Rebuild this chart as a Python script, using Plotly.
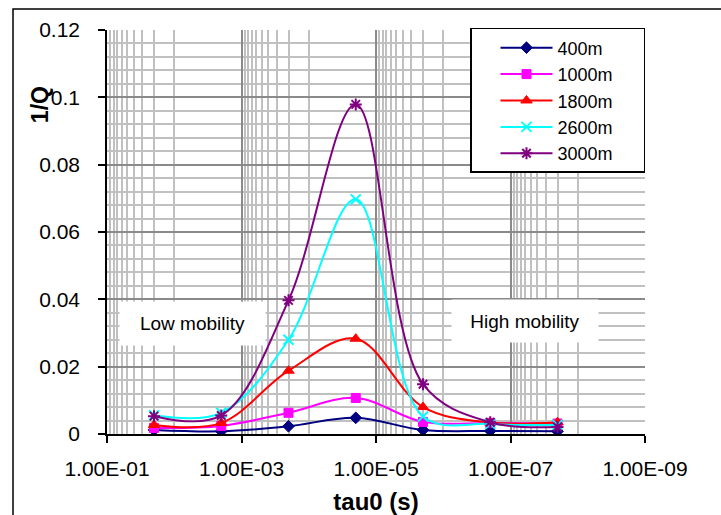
import plotly.graph_objects as go

# ---- data ----
tau0 = [2e-2, 2e-3, 2e-4, 2e-5, 2e-6, 2e-7, 2e-8]
q_400 = [0.0012, 0.0008, 0.0023, 0.0048, 0.0012, 0.0009, 0.0008]
q_1000 = [0.0018, 0.0024, 0.0063, 0.0107, 0.0036, 0.0033, 0.0031]
q_1800 = [0.0027, 0.0033, 0.0188, 0.0283, 0.0080, 0.0034, 0.0035]
q_2600 = [0.0056, 0.0063, 0.0280, 0.0697, 0.0052, 0.0030, 0.0027]
q_3000 = [0.0053, 0.0055, 0.0397, 0.0979, 0.0148, 0.0035, 0.0021]
series_names = ["400m", "1000m", "1800m", "2600m", "3000m"]
x_tick_vals = [1e-1, 1e-3, 1e-5, 1e-7, 1e-9]
x_tick_text = ["1.00E-01", "1.00E-03", "1.00E-05", "1.00E-07", "1.00E-09"]
y_tick_vals = [0, 0.02, 0.04, 0.06, 0.08, 0.1, 0.12]
y_tick_text = ["0", "0.02", "0.04", "0.06", "0.08", "0.1", "0.12"]

FONT = "Liberation Sans, Arial, sans-serif"

styles = [
    dict(color="#000080", symbol="diamond", size=9, lw=1),
    dict(color="#FF00FF", symbol="square", size=9, lw=1),
    dict(color="#FF0000", symbol="triangle-up", size=10, lw=1),
    dict(color="#00FFFF", symbol="x-thin", size=10, lw=2),
    dict(color="#800080", symbol="asterisk", size=10, lw=2),
]
values = [q_400, q_1000, q_1800, q_2600, q_3000]

PAD = "\u00a0" * 5  # invisible trailing space to widen the legend box

fig = go.Figure()
for name, vals, st in zip(series_names, values, styles):
    fig.add_trace(go.Scatter(
        x=tau0, y=vals, name=name + PAD, mode="lines+markers",
        line=dict(color=st["color"], width=2, shape="spline", smoothing=1.0),
        marker=dict(symbol=st["symbol"], size=st["size"], color=st["color"],
                    line=dict(color=st["color"], width=st["lw"])),
    ))

# minor x grid: only within the first decade after each major line
minor_x = []
for m in x_tick_vals[:-1]:
    for d in range(1, 10):
        minor_x.append(d * m / 10)

MAJOR_GRID = "#8a8a8a"
MINOR_GRID = "#c0c0c0"

fig.update_layout(
    width=721, height=515,
    margin=dict(l=107, r=76, t=30, b=81),
    paper_bgcolor="white", plot_bgcolor="white",
    font=dict(family=FONT, color="black", size=21),
    showlegend=True,
    legend=dict(
        x=1, xanchor="right", y=1.005, yanchor="top",
        bgcolor="white", bordercolor="black", borderwidth=1.5,
        font=dict(size=18, family=FONT), itemwidth=52,
        tracegroupgap=0, indentation=24,
    ),
    xaxis=dict(
        type="log", range=[-1, -9], automargin=False,
        tickmode="array", tickvals=x_tick_vals, ticktext=x_tick_text,
        showgrid=True, gridcolor=MAJOR_GRID, gridwidth=1.5,
        showline=True, linecolor="black", linewidth=1.5,
        ticks="outside", ticklen=7, tickcolor="black", tickwidth=1.5,
        ticklabelstandoff=8,
        tickfont=dict(size=21),
        minor=dict(tickmode="array", tickvals=minor_x, showgrid=True,
                   gridcolor=MINOR_GRID, gridwidth=1.5, ticks=""),
        title=dict(text="<b>tau0 (s)</b>", font=dict(size=24), standoff=14),
        zeroline=False,
    ),
    yaxis=dict(
        range=[0, 0.12], automargin=False,
        tickmode="array", tickvals=y_tick_vals, ticktext=y_tick_text,
        showgrid=True, gridcolor=MAJOR_GRID, gridwidth=1.5,
        showline=True, linecolor="black", linewidth=1.5,
        ticks="outside", ticklen=7, tickcolor="black", tickwidth=1.5,
        ticklabelstandoff=14,
        tickfont=dict(size=21),
        minor=dict(tickmode="linear", tick0=0, dtick=0.004, showgrid=True,
                   gridcolor=MINOR_GRID, gridwidth=1.5, ticks=""),
        zeroline=False,
    ),
    shapes=[
        dict(type="rect", xref="paper", yref="paper",
             x0=-0.1747, x1=1.3, y0=-0.3, y1=1.052,
             line=dict(color="black", width=1.5), fillcolor="rgba(0,0,0,0)",
             layer="below"),
    ],
    annotations=[
        dict(text="<b>1/Q</b>", xref="paper", yref="paper", x=-0.1245, y=0.814,
             xanchor="center", yanchor="middle",
             textangle=-90, showarrow=False, font=dict(size=23)),
        dict(text="Low mobility", xref="paper", yref="paper", x=0.159, y=0.2735,
             xanchor="center", yanchor="middle",
             showarrow=False, font=dict(size=19), bgcolor="white",
             width=137, height=35, borderpad=4),
        dict(text="High mobility", xref="paper", yref="paper", x=0.777, y=0.2797,
             xanchor="center", yanchor="middle",
             showarrow=False, font=dict(size=19), bgcolor="white",
             width=138, height=34, borderpad=4),
    ],
)

fig.write_html("out.html")
